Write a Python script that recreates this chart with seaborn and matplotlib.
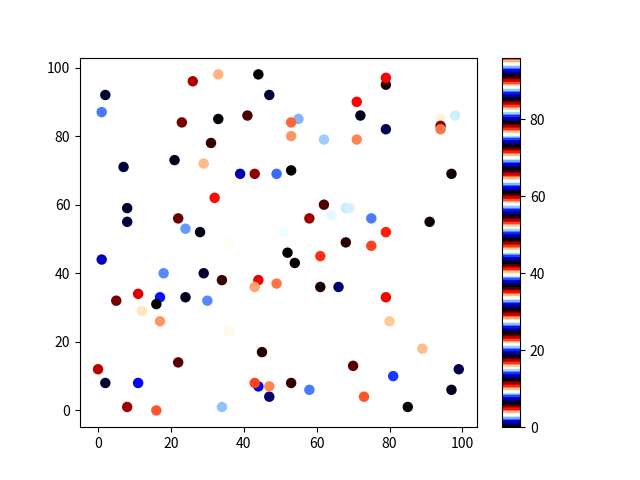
import numpy as np
import pandas as pd
import seaborn as sns
import matplotlib
matplotlib.use("Agg")
import matplotlib.pyplot as plt
from matplotlib.colors import Normalize
from matplotlib.cm import ScalarMappable

sns.set_style("ticks")
plt.rcParams['font.family'] = ['Noto Sans CJK SC', 'DejaVu Sans']
plt.rcParams['axes.edgecolor'] = 'black'
plt.rcParams['xtick.color'] = 'black'
plt.rcParams['ytick.color'] = 'black'

# points (drawn in this order, later ones on top)
x = [1, 2, 7, 8, 8, 1, 0, 2, 5, 8,
     11, 11, 12, 16, 17, 17, 16, 18, 21, 22,
     22, 23, 24, 24, 26, 28, 29, 29, 30, 31,
     32, 33, 33, 34, 34, 36, 36, 39, 41, 43,
     44, 43, 44, 43, 44, 45, 47, 47, 47, 49,
     49, 51, 52, 55, 53, 53, 53, 53, 54, 58,
     58, 61, 61, 61, 62, 62, 64, 66, 68, 68,
     69, 70, 71, 71, 72, 73, 75, 75, 78, 79,
     79, 79, 79, 79, 80, 81, 85, 89, 91, 94,
     94, 94, 97, 97, 98, 99, 47, 52, 69, 62]
y = [87, 92, 71, 59, 55, 44, 12, 8, 32, 1,
     8, 34, 29, 0, 33, 26, 31, 40, 73, 56,
     14, 84, 53, 33, 96, 52, 72, 40, 32, 78,
     62, 98, 85, 1, 38, 49, 23, 69, 86, 69,
     38, 36, 7, 8, 98, 17, 92, 4, 7, 69,
     37, 52, 46, 85, 84, 80, 70, 8, 43, 56,
     6, 48, 45, 36, 60, 79, 57, 36, 49, 59,
     59, 13, 90, 79, 86, 4, 56, 48, 51, 52,
     95, 97, 82, 33, 26, 10, 1, 18, 55, 85,
     83, 82, 69, 6, 86, 12, 26, 27, 10, 5]
c = [87, 37, 31, 37, 31, 68, 90, 37, 60, 78,
     38, 11, 28, 59, 26, 83, 6, 81, 43, 54,
     48, 60, 75, 43, 84, 49, 4, 37, 81, 30,
     35, 95, 55, 57, 36, 52, 46, 74, 42, 72,
     17, 89, 50, 53, 0, 24, 31, 7, 77, 93,
     71, 76, 61, 63, 65, 83, 67, 30, 73, 78,
     87, 70, 47, 18, 42, 51, 82, 7, 91, 33,
     27, 48, 29, 77, 43, 59, 87, 53, 9, 41,
     85, 96, 19, 23, 10, 14, 67, 4, 12, 40,
     72, 71, 79, 43, 94, 25, 64, 3, 58, 64]

df = pd.DataFrame({'x': x, 'y': y, 'c': c})

cmap = plt.get_cmap('flag_r')
norm = Normalize(vmin=0, vmax=96)

fig, ax = plt.subplots(figsize=(6.4, 4.8), dpi=100)
sns.scatterplot(data=df, x='x', y='y', hue='c', palette=cmap, hue_norm=norm,
                s=36, edgecolor='face', linewidth=1.5, legend=False, ax=ax)
ax.set_xlabel('')
ax.set_ylabel('')
ax.set_xticks([0, 20, 40, 60, 80, 100])
ax.set_yticks([0, 20, 40, 60, 80, 100])

sm = ScalarMappable(norm=norm, cmap=cmap)
cbar = fig.colorbar(sm, ax=ax)
cbar.outline.set_edgecolor('black')

fig.savefig('out.png', dpi=100)
